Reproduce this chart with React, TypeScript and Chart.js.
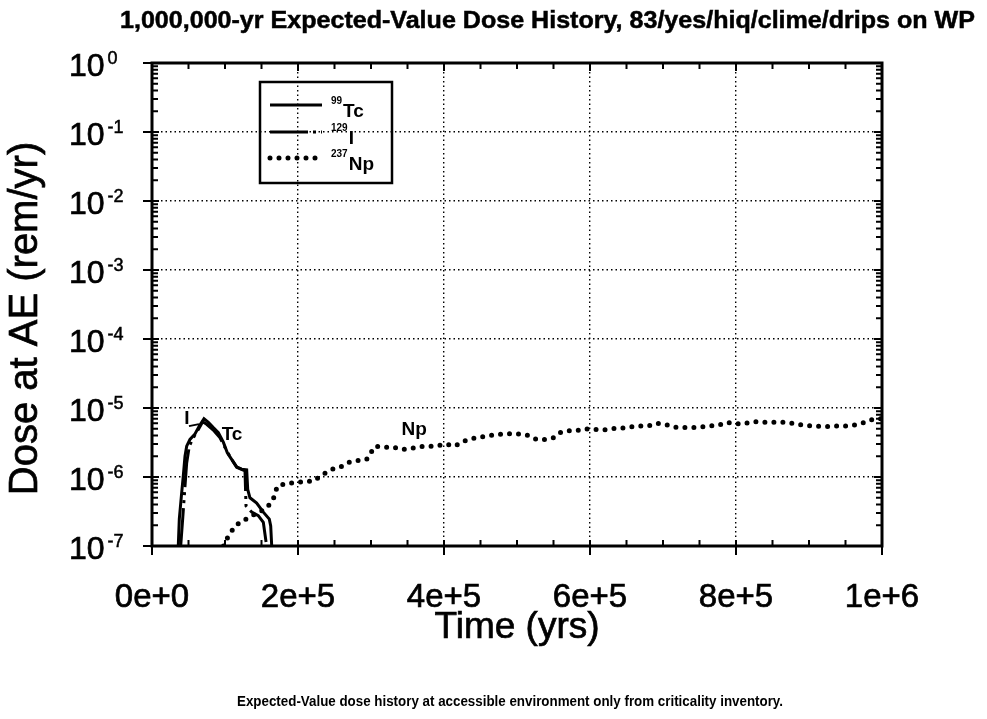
import React, { useEffect, useRef } from 'react';
import { Chart, registerables } from 'chart.js';

Chart.register(...registerables);

// ---------------- data ----------------
const tcTime = [36000, 37400, 40700, 42900, 45200, 47500, 52000, 58900, 64800, 71200, 77200, 84000, 90900, 97700, 103200, 109100, 116000, 122800, 129700, 131100, 134200, 143400, 152500, 160700, 162600, 164000];
const tcDose = [1e-7, 2.45e-7, 6.0e-7, 1.05e-6, 2.0e-6, 2.8e-6, 3.5e-6, 4.2e-6, 5.5e-6, 7.0e-6, 6.2e-6, 5.2e-6, 4.4e-6, 3.2e-6, 2.25e-6, 1.8e-6, 1.4e-6, 1.3e-6, 1.27e-6, 6.6e-7, 5.0e-7, 4.2e-7, 3.1e-7, 2.45e-7, 1.96e-7, 1e-7];

const iTime = [39300, 42000, 45200, 47500, 51100, 56600, 63500, 69400, 74900, 84000, 93200, 101400, 107800, 116000, 127400, 128800, 136600, 145600, 152500, 157000];
const iDose = [1e-7, 2.45e-7, 7.4e-7, 1.6e-6, 2.8e-6, 3.7e-6, 4.9e-6, 6.3e-6, 5.8e-6, 4.8e-6, 3.7e-6, 2.5e-6, 1.9e-6, 1.38e-6, 1.23e-6, 3.8e-7, 3.1e-7, 2.75e-7, 2.2e-7, 1e-7];

const npTime = [98000, 102300, 113700, 125100, 136600, 148000, 159300, 166200, 171700, 184500, 198200, 209600, 221000, 234700, 246200, 257500, 266700, 275800, 294100, 305500, 319200, 330600, 342000, 355700, 367100, 378500, 390000, 401400, 415000, 424200, 433300, 444700, 456200, 467600, 479000, 492700, 504100, 515500, 527000, 538400, 549700, 558900, 570300, 581800, 593200, 604500, 617400, 629700, 642000, 654800, 667500, 679900, 690400, 702700, 715100, 727800, 739300, 751600, 764400, 775800, 787300, 798600, 810000, 821500, 832900, 844200, 858000, 869500, 880800, 893200, 905000, 917400, 929700, 942500, 953800, 967500, 979000, 988100, 1000000];
const npDose = [1e-7, 1.26e-7, 1.96e-7, 2.33e-7, 2.75e-7, 3.1e-7, 3.8e-7, 4.8e-7, 7.4e-7, 8.1e-7, 8.3e-7, 8.7e-7, 8.7e-7, 1.1e-6, 1.3e-6, 1.38e-6, 1.6e-6, 1.7e-6, 1.8e-6, 2.8e-6, 2.7e-6, 2.7e-6, 2.5e-6, 2.6e-6, 2.75e-6, 2.8e-6, 2.8e-6, 3.0e-6, 2.8e-6, 3.2e-6, 3.5e-6, 3.7e-6, 3.9e-6, 4.05e-6, 4.2e-6, 4.25e-6, 4.2e-6, 4.0e-6, 3.5e-6, 3.5e-6, 3.7e-6, 4.4e-6, 4.7e-6, 4.7e-6, 5.0e-6, 4.9e-6, 4.8e-6, 5.0e-6, 5.1e-6, 5.3e-6, 5.5e-6, 5.5e-6, 6.0e-6, 5.8e-6, 5.3e-6, 5.2e-6, 5.2e-6, 5.3e-6, 5.5e-6, 5.6e-6, 6.2e-6, 5.9e-6, 5.9e-6, 6.3e-6, 6.3e-6, 6.2e-6, 6.2e-6, 6.2e-6, 5.9e-6, 5.6e-6, 5.5e-6, 5.4e-6, 5.4e-6, 5.5e-6, 5.5e-6, 5.8e-6, 6.3e-6, 6.9e-6, 7.0e-6];

const seriesNames = ['Tc', 'I', 'Np'];
const seriesIsotopes = ['99', '129', '237'];

const xTickValues = [0, 200000, 400000, 600000, 800000, 1000000];
const xTickLabels = ['0e+0', '2e+5', '4e+5', '6e+5', '8e+5', '1e+6'];
const xMinorStep = 50000;
const yTickExponents = [0, -1, -2, -3, -4, -5, -6, -7];

// in-plot annotations (data coordinates)
const annotationText = ['I', 'Tc', 'Np'];
const annotationTime = [47900, 109600, 359000];
const annotationDose = [6.9e-6, 4.05e-6, 4.8e-6];

const titleText = '1,000,000-yr Expected-Value Dose History, 83/yes/hiq/clime/drips on WP';
const xTitleText = 'Time (yrs)';
const yTitleText = 'Dose at AE (rem/yr)';
const captionText = 'Expected-Value dose history at accessible environment only from criticality inventory.';

const FONT = '"Liberation Sans", Arial, Helvetica, sans-serif';

const toPoints = (t: number[], d: number[]) => t.map((x, i) => ({ x, y: d[i] }));
const isDecade = (v: number) => {
  if (!v || v <= 0) return false;
  const l = Math.log10(v);
  return Math.abs(l - Math.round(l)) < 1e-6;
};

// slightly heavy text, imitating the scanned print
function heavyText(ctx: CanvasRenderingContext2D, text: string, x: number, y: number, weight = 0.7) {
  ctx.fillText(text, x, y);
  ctx.lineWidth = weight;
  ctx.setLineDash([]);
  ctx.strokeText(text, x, y);
}

function fitText(ctx: CanvasRenderingContext2D, text: string, x: number, y: number, width: number, weight = 0) {
  const w = ctx.measureText(text).width;
  ctx.save();
  ctx.translate(x, y);
  ctx.scale(width / w, 1);
  ctx.textAlign = 'left';
  ctx.fillText(text, 0, 0);
  if (weight > 0) {
    ctx.lineWidth = weight;
    ctx.strokeText(text, 0, 0);
  }
  ctx.restore();
}

const decorPlugin = {
  id: 'decor',
  afterDraw(chart: any) {
    const { ctx, chartArea: a, scales } = chart;
    const xs = scales.x;
    const ys = scales.y;
    ctx.save();
    ctx.strokeStyle = '#000';
    ctx.fillStyle = '#000';
    ctx.setLineDash([]);
    ctx.lineCap = 'butt';

    // frame
    ctx.lineWidth = 3;
    ctx.strokeRect(a.left, a.top, a.right - a.left, a.bottom - a.top);

    // x ticks
    ctx.lineWidth = 2;
    for (let v = 0; v <= 1000000; v += xMinorStep) {
      const px = xs.getPixelForValue(v);
      const major = xTickValues.includes(v);
      ctx.beginPath();
      if (major) {
        ctx.moveTo(px, a.bottom + 9);
        ctx.lineTo(px, a.bottom - 6);
        ctx.moveTo(px, a.top);
        ctx.lineTo(px, a.top + 8);
      } else {
        ctx.moveTo(px, a.bottom);
        ctx.lineTo(px, a.bottom - 6);
        ctx.moveTo(px, a.top);
        ctx.lineTo(px, a.top + 6);
      }
      ctx.stroke();
    }

    // y ticks
    for (const e of yTickExponents) {
      const py = ys.getPixelForValue(Math.pow(10, e));
      ctx.lineWidth = 2;
      ctx.beginPath();
      ctx.moveTo(a.left - 9, py);
      ctx.lineTo(a.left + 7, py);
      ctx.moveTo(a.right, py);
      ctx.lineTo(a.right - 8, py);
      ctx.stroke();
      if (e < 0) {
        for (let m = 2; m <= 9; m++) {
          const pm = ys.getPixelForValue(m * Math.pow(10, e));
          ctx.beginPath();
          ctx.moveTo(a.left, pm);
          ctx.lineTo(a.left + 6, pm);
          ctx.moveTo(a.right, pm);
          ctx.lineTo(a.right - 6, pm);
          ctx.stroke();
        }
      }
    }

    // y tick labels: 10^n
    for (const e of yTickExponents) {
      const py = ys.getPixelForValue(Math.pow(10, e));
      ctx.font = `32px ${FONT}`;
      ctx.textAlign = 'left';
      ctx.textBaseline = 'alphabetic';
      const base = '10';
      const bx = a.left - 83;
      heavyText(ctx, base, bx, py + 13);
      const bw = ctx.measureText(base).width;
      ctx.font = `18px ${FONT}`;
      heavyText(ctx, e === 0 ? '0' : `-${-e}`, bx + bw + 3, py + 1, 0.5);
    }

    // x tick labels
    ctx.font = `33px ${FONT}`;
    ctx.textAlign = 'center';
    ctx.textBaseline = 'middle';
    xTickValues.forEach((v, i) => {
      heavyText(ctx, xTickLabels[i], xs.getPixelForValue(v), a.bottom + 52);
    });

    // axis titles
    ctx.font = `37px ${FONT}`;
    ctx.textAlign = 'center';
    ctx.textBaseline = 'middle';
    heavyText(ctx, xTitleText, (a.left + a.right) / 2, a.bottom + 82);
    ctx.save();
    ctx.font = `40px ${FONT}`;
    ctx.translate(26, (a.top + a.bottom) / 2 + 14);
    ctx.rotate(-Math.PI / 2);
    heavyText(ctx, yTitleText, 0, 0);
    ctx.restore();

    // title
    ctx.font = `bold 24px ${FONT}`;
    ctx.textBaseline = 'alphabetic';
    fitText(ctx, titleText, 120, 28, 855, 0.5);

    // caption
    ctx.font = `bold 15px ${FONT}`;
    fitText(ctx, captionText, 237, 706, 546);

    // annotations
    ctx.font = `bold 19px ${FONT}`;
    ctx.textAlign = 'center';
    ctx.textBaseline = 'middle';
    annotationText.forEach((t, i) => {
      ctx.fillText(t, xs.getPixelForValue(annotationTime[i]), ys.getPixelForValue(annotationDose[i]));
    });
    // leader from the "I" label toward the peak
    {
      const lx = xs.getPixelForValue(annotationTime[0]);
      const ly = ys.getPixelForValue(annotationDose[0]);
      ctx.lineWidth = 2;
      ctx.beginPath();
      ctx.moveTo(lx + 2, ly + 7);
      ctx.lineTo(lx + 12, ly + 5);
      ctx.stroke();
    }

    // legend box
    const lgL = a.left + 108, lgT = a.top + 19, lgW = 132, lgH = 101;
    ctx.lineWidth = 2.5;
    ctx.strokeRect(lgL, lgT, lgW, lgH);
    const rows = [lgT + 23, lgT + 50, lgT + 76];
    chart.data.datasets.forEach((ds: any, i: number) => {
      const ry = rows[i];
      ctx.save();
      ctx.lineWidth = ds.borderWidth;
      ctx.setLineDash(ds.borderDash || []);
      ctx.lineCap = ds.borderCapStyle || 'butt';
      ctx.beginPath();
      ctx.moveTo(lgL + 10, ry);
      ctx.lineTo(lgL + 62, ry);
      ctx.stroke();
      ctx.restore();
      ctx.textAlign = 'left';
      ctx.textBaseline = 'alphabetic';
      ctx.font = `bold 10px ${FONT}`;
      const sx = lgL + 71;
      ctx.fillText(seriesIsotopes[i], sx, ry - 1);
      const sw = ctx.measureText(seriesIsotopes[i]).width;
      ctx.font = `bold 19px ${FONT}`;
      ctx.fillText(seriesNames[i], sx + sw + 1, ry + 12);
    });

    ctx.restore();
  },
};

export default function App() {
  const ref = useRef<HTMLCanvasElement>(null);
  useEffect(() => {
    if (!ref.current) return;
    const chart = new Chart(ref.current, {
      type: 'line',
      data: {
        datasets: [
          {
            label: '99Tc',
            data: toPoints(tcTime, tcDose),
            borderColor: '#000',
            borderWidth: 3,
            pointRadius: 0,
            tension: 0,
            fill: false,
          },
          {
            label: '129I',
            data: toPoints(iTime, iDose),
            borderColor: '#000',
            borderWidth: 3,
            borderDash: [38, 5, 3, 5, 3, 5],
            pointRadius: 0,
            tension: 0,
            fill: false,
          },
          {
            label: '237Np',
            data: toPoints(npTime, npDose),
            borderColor: '#000',
            borderWidth: 5,
            borderDash: [0, 9],
            borderCapStyle: 'round',
            pointRadius: 0,
            tension: 0,
            fill: false,
          },
        ] as any,
      },
      options: {
        animation: false,
        responsive: false,
        devicePixelRatio: 1,
        layout: { padding: { left: 152, right: 105, top: 63, bottom: 173 } },
        plugins: {
          legend: { display: false },
          title: { display: false },
          tooltip: { enabled: false },
        },
        scales: {
          x: {
            type: 'linear',
            min: 0,
            max: 1000000,
            ticks: { display: false, stepSize: 200000 },
            grid: { color: '#000', lineWidth: 1.4, drawTicks: false },
            border: { display: false, dash: [1.5, 3] },
            afterFit: (s: any) => { s.height = 0; },
          },
          y: {
            type: 'logarithmic',
            min: 1e-7,
            max: 1,
            ticks: { display: false },
            grid: {
              color: (c: any) => (c.tick && isDecade(c.tick.value) ? '#000' : 'rgba(0,0,0,0)'),
              lineWidth: 1.4,
              drawTicks: false,
            },
            border: { display: false, dash: [1.5, 3] },
            afterFit: (s: any) => { s.width = 0; },
          },
        },
      } as any,
      plugins: [decorPlugin],
    });
    return () => chart.destroy();
  }, []);
  return (
    <div style={{ position: 'absolute', left: 0, top: 0, width: 987, height: 719, background: '#fff' }}>
      <canvas ref={ref} width={987} height={719} style={{ width: 987, height: 719, display: 'block' }} />
    </div>
  );
}
